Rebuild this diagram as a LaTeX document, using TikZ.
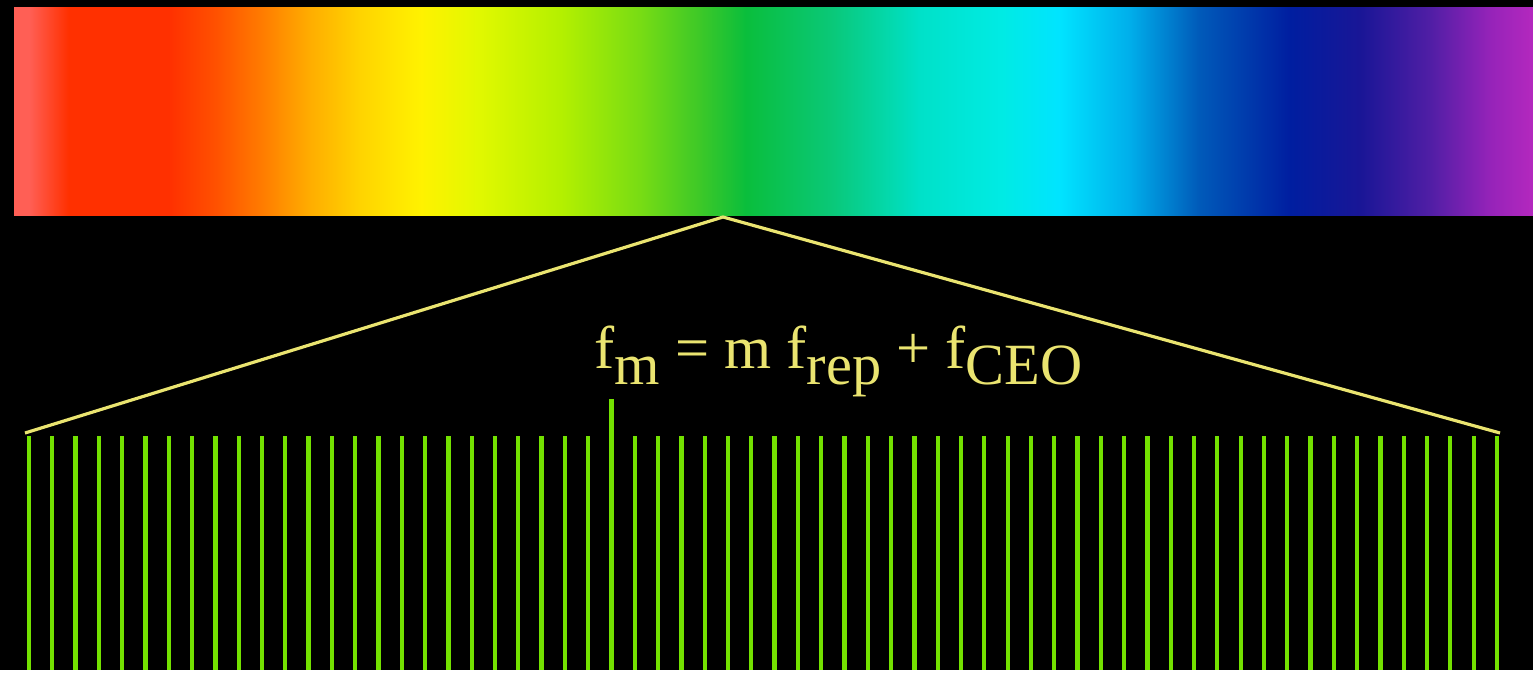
\documentclass[tikz,border=0pt]{standalone}
\usepackage{fontspec}
\setmainfont{Liberation Serif}
\definecolor{spA}{RGB}{255,95,85}
\definecolor{spB}{RGB}{255,48,0}
\definecolor{spC}{RGB}{255,80,0}
\definecolor{spD}{RGB}{255,122,0}
\definecolor{spE}{RGB}{255,172,0}
\definecolor{spF}{RGB}{255,212,0}
\definecolor{spG}{RGB}{255,242,0}
\definecolor{spH}{RGB}{225,248,0}
\definecolor{spI}{RGB}{180,240,0}
\definecolor{spJ}{RGB}{120,220,20}
\definecolor{spK}{RGB}{60,200,40}
\definecolor{spL}{RGB}{10,190,60}
\definecolor{spM}{RGB}{10,200,120}
\definecolor{spN}{RGB}{0,225,200}
\definecolor{spO}{RGB}{0,235,228}
\definecolor{spP}{RGB}{0,228,255}
\definecolor{spQ}{RGB}{0,175,235}
\definecolor{spR}{RGB}{0,90,185}
\definecolor{spS}{RGB}{0,30,160}
\definecolor{spT}{RGB}{25,22,150}
\definecolor{spU}{RGB}{80,30,165}
\definecolor{spV}{RGB}{150,35,185}
\definecolor{spW}{RGB}{180,40,190}
\pgfdeclarehorizontalshading{spectrum}{100bp}{color(0bp)=(spA); color(25bp)=(spA);
  color(25.5bp)=(spA); color(26.8bp)=(spB); color(30.1bp)=(spB); color(31.6bp)=(spC);
  color(33.1bp)=(spD); color(34.7bp)=(spE); color(36.4bp)=(spF); color(38.4bp)=(spG);
  color(40.3bp)=(spH); color(43bp)=(spI); color(45.6bp)=(spJ); color(47.6bp)=(spK);
  color(49.1bp)=(spL); color(51.9bp)=(spM); color(54.8bp)=(spN); color(57.5bp)=(spO);
  color(59.4bp)=(spP); color(61.7bp)=(spQ); color(64bp)=(spR); color(67bp)=(spS);
  color(69.3bp)=(spT); color(71.6bp)=(spU); color(73.6bp)=(spV); color(75bp)=(spW);
  color(100bp)=(spW)}
\definecolor{combgreen}{RGB}{115,225,0}
\definecolor{labelyellow}{RGB}{234,228,112}
\tikzset{tooth/.style={draw=combgreen,line width=1.2pt},
  fan/.style={draw=labelyellow,line width=0.9pt}}
\newcommand\lowsub[1]{\raisebox{-0.165cm}{\fontsize{16.6pt}{20pt}\selectfont #1}}
\begin{document}
\begin{tikzpicture}[x=0.01cm,y=-0.01cm]
\fill[black] (0,0) rectangle (1533,670);
\shade[shading=spectrum] (14,7) rectangle (1533,215);
\coordinate (apex) at (723,217);
\coordinate (combL) at (25,433);
\coordinate (combR) at (1500,433);
\draw[fan] (combL) -- (apex) -- (combR);
\foreach \k in {0,...,63}{
  \pgfmathsetmacro\top{\k==25 ? 399 : 436}
  \draw[tooth] ({29+23.3*\k},\top) -- ({29+23.3*\k},670);
}
\node[anchor=base west,inner sep=0pt,text=labelyellow] (formula) at (594,368)
  {\fontsize{17.2pt}{20pt}\selectfont f\lowsub{m} = m f\lowsub{rep} + f\lowsub{CEO}};
\end{tikzpicture}
\end{document}
